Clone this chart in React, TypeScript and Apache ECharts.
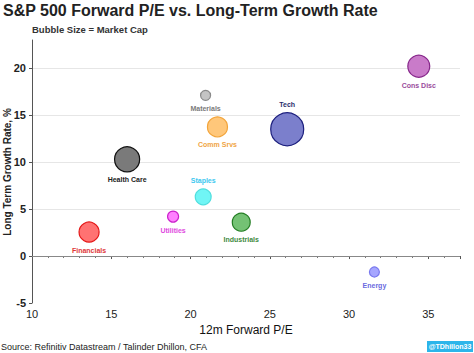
import React, { useEffect, useRef } from "react";
import * as echarts from "echarts";

const sectors = ["Cons Disc", "Tech", "Materials", "Comm Srvs", "Health Care", "Staples", "Financials", "Utilities", "Industrials", "Energy"];
const forwardPE = [34.4, 26.1, 20.95, 21.7, 16.0, 20.8, 13.6, 18.9, 23.2, 31.6];
const growthRate = [20.2, 13.5, 17.1, 13.75, 10.3, 6.3, 2.55, 4.2, 3.6, -1.7];
const marketCap = [4.2, 9.5, 0.87, 3.5, 5.5, 2.2, 3.5, 1.06, 2.8, 0.87];
const labelAbove = [false, true, false, false, false, true, false, false, false, false];
const fills = ["#c97bc9", "#7b7fcc", "#c4c4c4", "#ffc77a", "#7a7a7a", "#70f5f5", "#ff7272", "#ff80ff", "#74c274", "#a6a6ff"];
const borders = ["#86268a", "#1c1f7e", "#8a8a8a", "#f2a43a", "#111111", "#4fdede", "#e41616", "#cc22cc", "#237d23", "#7878ee"];
const labelColors = ["#9a4c9c", "#2b2d6b", "#7a7a7a", "#f0a444", "#222222", "#3cc8f0", "#e0383a", "#e048e0", "#3f8a40", "#6a6ae0"];
const xTicks = [10, 15, 20, 25, 30, 35];
const yTicks = [-5, 0, 5, 10, 15, 20];

export default function App() {
  const ref = useRef<HTMLDivElement>(null);
  useEffect(() => {
    const chart = echarts.init(ref.current!, null, { renderer: "svg" });
    const font = "'Liberation Sans', Arial, sans-serif";
    const data = sectors.map((name, i) => ({
      name,
      value: [forwardPE[i], growthRate[i], marketCap[i]],
      symbolSize: 10.7 * Math.sqrt(marketCap[i]),
      itemStyle: { color: fills[i], borderColor: borders[i], borderWidth: 1.2, opacity: 1 },
      label: {
        show: true,
        formatter: name,
        position: labelAbove[i] ? "top" : "bottom",
        distance: 4,
        color: labelColors[i],
        fontSize: 7,
        fontWeight: "bold",
        fontFamily: font,
      },
    }));
    chart.setOption({
      animation: false,
      backgroundColor: "#ffffff",
      grid: { left: 32, right: 14, top: 40, bottom: 50, containLabel: false, outerBoundsMode: "none" },
      xAxis: {
        type: "value",
        min: xTicks[0],
        max: 37,
        interval: 5,
        name: "12m Forward P/E",
        nameLocation: "middle",
        nameGap: 20,
        nameTextStyle: { fontSize: 12, color: "#111", fontFamily: font },
        axisLine: { show: true, lineStyle: { color: "#555", width: 1 } },
        axisTick: { show: true, length: 3, lineStyle: { color: "#555" } },
        minorTick: { show: true, splitNumber: 5, length: 2, lineStyle: { color: "#777" } },
        axisLabel: {
          fontSize: 11,
          color: "#222",
          fontFamily: font,
          margin: 5,
          showMaxLabel: false,
          formatter: (v: number) => (xTicks.includes(v) ? String(v) : ""),
        },
        splitLine: { show: false },
      },
      yAxis: {
        type: "value",
        min: yTicks[0],
        max: 23,
        interval: 5,
        axisLine: { show: true, lineStyle: { color: "#555", width: 1 } },
        axisTick: { show: true, length: 3, lineStyle: { color: "#555" } },
        axisLabel: {
          fontSize: 11,
          color: "#222",
          fontFamily: font,
          fontWeight: "bold",
          margin: 6,
          showMaxLabel: false,
          formatter: (v: number) => (yTicks.includes(v) ? String(v) : ""),
        },
        splitLine: { show: true, showMinLine: false, showMaxLine: false, lineStyle: { color: "#e6e6e6", width: 1 } },
      },
      title: [
        {
          text: "S&P 500 Forward P/E vs. Long-Term Growth Rate",
          left: 3,
          top: 2,
          padding: 0,
          textStyle: { fontSize: 16, fontWeight: "bold", color: "#222", fontFamily: font },
        },
        {
          text: "Bubble Size = Market Cap",
          left: 32,
          top: 24,
          padding: 0,
          textStyle: { fontSize: 9.5, fontWeight: "bold", color: "#333", fontFamily: font },
        },
      ],
      graphic: [
        {
          type: "text",
          x: 7,
          y: 172,
          rotation: Math.PI / 2,
          style: {
            text: "Long Term Growth Rate, %",
            fontSize: 10,
            fontWeight: "bold",
            fill: "#222",
            fontFamily: font,
            align: "center",
            verticalAlign: "middle",
          },
        },
        {
          type: "text",
          left: 1,
          top: 342,
          style: { text: "Source: Refinitiv Datastream / Talinder Dhillon, CFA", fontSize: 9, fill: "#222", fontFamily: font },
        },
        {
          type: "group",
          right: 1,
          top: 341,
          children: [
            { type: "rect", shape: { x: 0, y: 0, width: 46, height: 11 }, style: { fill: "#2cb5ea" } },
            {
              type: "text",
              x: 23,
              y: 5.5,
              style: { text: "@TDhillon33", fontSize: 7, fontWeight: "bold", fill: "#ffffff", fontFamily: font, align: "center", verticalAlign: "middle" },
            },
          ],
        },
      ],
      series: [
        {
          type: "scatter",
          data,
          markLine: {
            silent: true,
            symbol: "none",
            label: { show: false },
            lineStyle: { color: "#888", type: "solid", width: 1.2 },
            data: [{ yAxis: 0 }],
          },
        },
      ],
    });
    return () => chart.dispose();
  }, []);
  return <div ref={ref} style={{ width: 474, height: 353, position: "absolute", left: 0, top: 0 }} />;
}
